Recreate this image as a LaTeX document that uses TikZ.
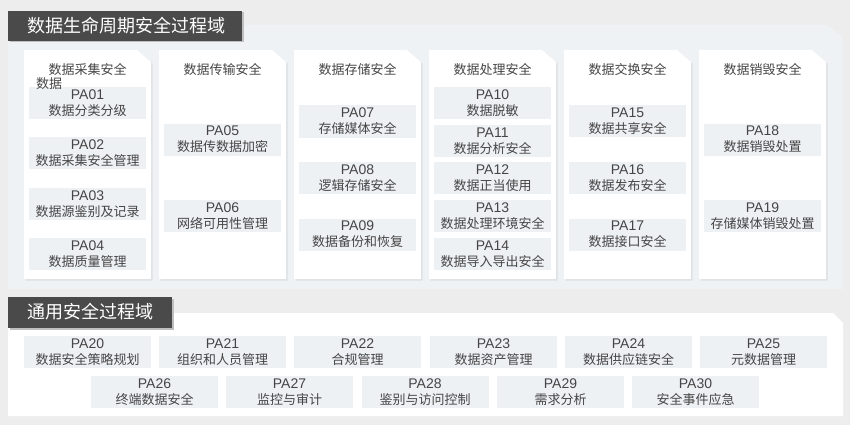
\documentclass[tikz,border=0pt]{standalone}
\usepackage{fontspec}
\setmainfont{Noto Sans CJK SC}
\newfontfamily\latinfont{Liberation Sans}
\definecolor{bgc}{HTML}{EDEDED}
\definecolor{panelc}{HTML}{EEF2F5}
\definecolor{boxc}{HTML}{EEF1F4}
\definecolor{darkc}{HTML}{4A4A4A}
\definecolor{txtc}{HTML}{454545}
\definecolor{shadc}{HTML}{DCE0E3}
\newcommand\panum[1]{{\latinfont\fontsize{14}{16}\selectfont #1}}
\tikzset{
  itembox/.style={rectangle, fill=boxc, minimum width=117pt, minimum height=32pt, inner sep=0pt,
    align=center, text=txtc, font=\fontsize{13}{16}\selectfont},
  genbox/.style={itembox, minimum width=127pt},
  coltitle/.style={text=txtc, font=\fontsize{13}{16}\selectfont, inner sep=0pt},
  headbox/.style={fill=darkc},
  headtext/.style={text=white, font=\fontsize{18}{20}\selectfont, inner sep=0pt, anchor=west},
}
\begin{document}
\begin{tikzpicture}[x=1pt,y=-1pt]
\useasboundingbox (0,0) rectangle (850,425);
\fill[bgc] (0,0) rectangle (850,425);
% top panel
\fill[panelc] (8,25) -- (828,25) -- (843,38) -- (843,289) -- (8,289) -- cycle;
% header 1
\fill[black!25] (9.5,12.5) rectangle (243.5,42.5);
\fill[headbox] (8,11) rectangle (242,41);
\node[headtext] (h1) at (27,26) {数据生命周期安全过程域};
% columns
\foreach \k/\t in {0/数据采集安全,1/数据传输安全,2/数据存储安全,3/数据处理安全,4/数据交换安全,5/数据销毁安全} {
  \pgfmathsetmacro\xa{24+135*\k}
  \pgfmathsetmacro\xb{\xa+127}
  \fill[shadc] (\xa+1.5,51.5) -- (\xb-12.5,51.5) -- (\xb+1.5,63.5) -- (\xb+1.5,280.5) -- (\xa+1.5,280.5) -- cycle;
  \fill[white] (\xa,50) -- (\xb-14,50) -- (\xb,62) -- (\xb,279) -- (\xa,279) -- cycle;
  \node[coltitle] (t\k) at (\xa+63.5,70) {\t};
}
% column 1
\node[itembox] (pa01) at (87.5,103) {\panum{PA01}\\数据分类分级};
\node[itembox] (pa02) at (87.5,153) {\panum{PA02}\\数据采集安全管理};
\node[itembox] (pa03) at (87.5,204) {\panum{PA03}\\数据源鉴别及记录};
\node[itembox] (pa04) at (87.5,254) {\panum{PA04}\\数据质量管理};
\node[coltitle, anchor=west] (sj) at (36,84) {数据};
% column 2
\node[itembox] (pa05) at (222.5,139.5) {\panum{PA05}\\数据传数据加密};
\node[itembox] (pa06) at (222.5,216) {\panum{PA06}\\网络可用性管理};
% column 3
\node[itembox] (pa07) at (357.5,121.5) {\panum{PA07}\\存储媒体安全};
\node[itembox] (pa08) at (357.5,178) {\panum{PA08}\\逻辑存储安全};
\node[itembox] (pa09) at (357.5,234.5) {\panum{PA09}\\数据备份和恢复};
% column 4
\node[itembox] (pa10) at (492.5,103) {\panum{PA10}\\数据脱敏};
\node[itembox] (pa11) at (492.5,141) {\panum{PA11}\\数据分析安全};
\node[itembox] (pa12) at (492.5,178) {\panum{PA12}\\数据正当使用};
\node[itembox] (pa13) at (492.5,216) {\panum{PA13}\\数据处理环境安全};
\node[itembox] (pa14) at (492.5,254) {\panum{PA14}\\数据导入导出安全};
% column 5
\node[itembox] (pa15) at (627.5,121) {\panum{PA15}\\数据共享安全};
\node[itembox] (pa16) at (627.5,178) {\panum{PA16}\\数据发布安全};
\node[itembox] (pa17) at (627.5,234.5) {\panum{PA17}\\数据接口安全};
% column 6
\node[itembox] (pa18) at (762.5,139.5) {\panum{PA18}\\数据销毁处置};
\node[itembox] (pa19) at (762.5,216) {\panum{PA19}\\存储媒体销毁处置};
% bottom panel
\fill[white] (8,313) -- (833,313) -- (843,323) -- (843,416) -- (8,416) -- cycle;
\fill[black!25] (9.5,298.5) rectangle (173.5,329.5);
\fill[headbox] (8,297) rectangle (172,328);
\node[headtext] (h2) at (27,312) {通用安全过程域};
% general row 1
\node[genbox] (pa20) at (87.5,352) {\panum{PA20}\\数据安全策略规划};
\node[genbox] (pa21) at (222.5,352) {\panum{PA21}\\组织和人员管理};
\node[genbox] (pa22) at (357.5,352) {\panum{PA22}\\合规管理};
\node[genbox] (pa23) at (493.5,352) {\panum{PA23}\\数据资产管理};
\node[genbox] (pa24) at (628.5,352) {\panum{PA24}\\数据供应链安全};
\node[genbox] (pa25) at (763.5,352) {\panum{PA25}\\元数据管理};
% general row 2
\node[genbox] (pa26) at (154.5,392) {\panum{PA26}\\终端数据安全};
\node[genbox] (pa27) at (289.5,392) {\panum{PA27}\\监控与审计};
\node[genbox] (pa28) at (425,392) {\panum{PA28}\\鉴别与访问控制};
\node[genbox] (pa29) at (560.5,392) {\panum{PA29}\\需求分析};
\node[genbox] (pa30) at (695.5,392) {\panum{PA30}\\安全事件应急};
\end{tikzpicture}
\end{document}
